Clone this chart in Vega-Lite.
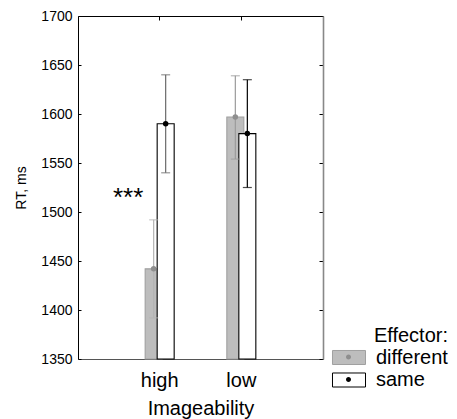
{
  "$schema": "https://vega.github.io/schema/vega-lite/v6.json",
  "autosize": "none",
  "width": 245,
  "height": 343,
  "padding": {"left": 78, "top": 16, "right": 134, "bottom": 60},
  "config": {
    "font": "Liberation Sans",
    "view": {"stroke": null},
    "axis": {"grid": false, "labelColor": "#000", "titleColor": "#000", "tickColor": "#000", "titleFontWeight": "normal", "domainColor": "#000"},
    "legend": {"titleFontWeight": "normal", "titleColor": "#000", "labelColor": "#000"}
  },
  "datasets": {
    "rt": [
      {"Imageability": "high", "Effector": "different", "RT": 1442, "lo": 1392, "hi": 1492},
      {"Imageability": "high", "Effector": "same", "RT": 1590, "lo": 1540, "hi": 1640},
      {"Imageability": "low", "Effector": "different", "RT": 1597, "lo": 1554, "hi": 1639},
      {"Imageability": "low", "Effector": "same", "RT": 1580, "lo": 1525, "hi": 1635}
    ],
    "sig": [
      {"Imageability": "high", "RT": 1506, "label": "***"}
    ]
  },
  "layer": [
    {
      "data": {"name": "rt"},
      "mark": {"type": "bar", "width": 17, "strokeWidth": 1.1},
      "encoding": {
        "x": {"field": "Imageability", "type": "nominal", "sort": ["high", "low"],
          "scale": {"paddingInner": 0.706, "paddingOuter": 0.853},
          "axis": {"orient": "bottom", "labelAngle": 0, "labelFontSize": 20, "tickSize": -4, "labelPadding": 15, "domainColor": "#555", "title": "Imageability", "titleFontSize": 20, "titlePadding": 8}},
        "xOffset": {"field": "Effector", "type": "nominal", "sort": ["different", "same"], "scale": {"paddingInner": 0, "paddingOuter": 0}},
        "y": {"field": "RT", "type": "quantitative", "scale": {"domain": [1350, 1700], "nice": false, "zero": false},
          "axis": {"orient": "left", "values": [1350, 1400, 1450, 1500, 1550, 1600, 1650, 1700], "format": "d", "tickSize": -3, "labelPadding": 9, "labelFontSize": 14, "title": "RT, ms", "titleFontSize": 14, "titlePadding": 12}},
        "y2": {"datum": 1350},
        "fill": {"field": "Effector", "type": "nominal", "scale": {"range": ["#bdbdbd", "#ffffff"]},
          "legend": {"orient": "none", "legendX": 259, "legendY": 309.5, "title": "Effector:", "titleFontSize": 20, "titleAnchor": "end", "titlePadding": 0, "labelFontSize": 20, "labelOffset": 15, "rowPadding": 0.5, "padding": 0, "symbolType": "M-1.435,-0.609H1.435V0.609H-1.435Z", "symbolSize": 529, "symbolStrokeWidth": 1}},
        "stroke": {"field": "Effector", "type": "nominal", "scale": {"range": ["#a0a0a0", "#000000"]}}
      }
    },
    {
      "data": {"name": "rt"},
      "mark": {"type": "rule", "strokeWidth": 1.2},
      "encoding": {
        "x": {"field": "Imageability", "type": "nominal", "sort": ["high", "low"],
          "axis": {"orient": "top", "labels": false, "tickSize": -4, "title": null, "domainColor": "#000"}},
        "xOffset": {"field": "Effector", "type": "nominal", "sort": ["different", "same"]},
        "y": {"field": "lo", "type": "quantitative",
          "axis": {"orient": "right", "labels": false, "values": [1350, 1400, 1450, 1500, 1550, 1600, 1650, 1700], "tickSize": -4, "title": null, "domainColor": "#888", "domainWidth": 1.6}},
        "y2": {"field": "hi"},
        "stroke": {"condition": [
          {"test": "datum.Effector === 'different' && datum.Imageability === 'high'", "value": "#b4b4b4"},
          {"test": "datum.Effector === 'different'", "value": "#9a9a9a"},
          {"test": "datum.Imageability === 'high'", "value": "#6a6a6a"}
        ], "value": "#000000"}
      }
    },
    {
      "data": {"name": "rt"},
      "mark": {"type": "tick", "size": 9, "thickness": 1.2},
      "encoding": {
        "x": {"field": "Imageability", "type": "nominal", "sort": ["high", "low"], "axis": null},
        "xOffset": {"field": "Effector", "type": "nominal", "sort": ["different", "same"]},
        "y": {"field": "lo", "type": "quantitative", "axis": null},
        "color": {"condition": [
          {"test": "datum.Effector === 'different' && datum.Imageability === 'high'", "value": "#b4b4b4"},
          {"test": "datum.Effector === 'different'", "value": "#9a9a9a"},
          {"test": "datum.Imageability === 'high'", "value": "#6a6a6a"}
        ], "value": "#000000"}
      }
    },
    {
      "data": {"name": "rt"},
      "mark": {"type": "tick", "size": 9, "thickness": 1.2},
      "encoding": {
        "x": {"field": "Imageability", "type": "nominal", "sort": ["high", "low"], "axis": null},
        "xOffset": {"field": "Effector", "type": "nominal", "sort": ["different", "same"]},
        "y": {"field": "hi", "type": "quantitative", "axis": null},
        "color": {"condition": [
          {"test": "datum.Effector === 'different' && datum.Imageability === 'high'", "value": "#b4b4b4"},
          {"test": "datum.Effector === 'different'", "value": "#9a9a9a"},
          {"test": "datum.Imageability === 'high'", "value": "#6a6a6a"}
        ], "value": "#000000"}
      }
    },
    {
      "data": {"name": "rt"},
      "mark": {"type": "point", "filled": true, "size": 30, "opacity": 1},
      "encoding": {
        "x": {"field": "Imageability", "type": "nominal", "sort": ["high", "low"], "axis": null},
        "xOffset": {"field": "Effector", "type": "nominal", "sort": ["different", "same"]},
        "y": {"field": "RT", "type": "quantitative", "axis": null},
        "color": {"field": "Effector", "type": "nominal", "scale": {"domain": ["different", "same"], "range": ["#8e8e8e", "#000000"]},
          "legend": {"orient": "none", "legendX": 259, "legendY": 329.5, "title": null, "labelExpr": "''", "labelFontSize": 20, "labelOffset": 15, "rowPadding": 0.5, "padding": 0, "symbolType": "M-0.217,0A0.217,0.217 0 1,0 0.217,0A0.217,0.217 0 1,0 -0.217,0Z", "symbolSize": 529, "symbolStrokeWidth": 0}}
      }
    },
    {
      "data": {"name": "sig"},
      "mark": {"type": "text", "fontSize": 26, "baseline": "alphabetic", "align": "center", "dx": -31.5, "color": "#000"},
      "encoding": {
        "x": {"field": "Imageability", "type": "nominal", "sort": ["high", "low"], "axis": null},
        "y": {"field": "RT", "type": "quantitative", "axis": null},
        "text": {"field": "label"}
      }
    }
  ]
}
